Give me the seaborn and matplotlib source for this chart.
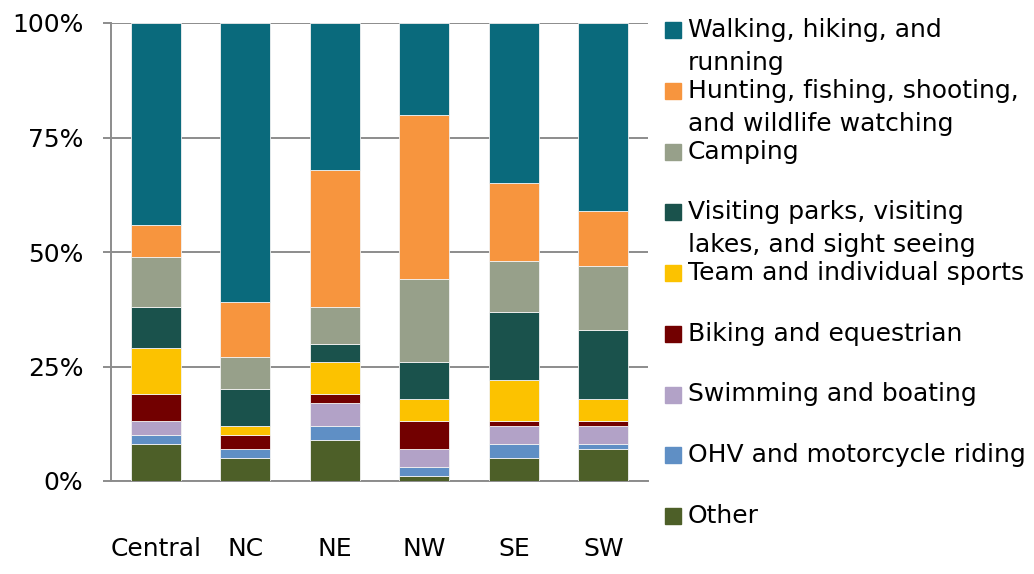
import matplotlib
matplotlib.use('Agg')
import matplotlib.pyplot as plt
import seaborn as sns
import numpy as np
from matplotlib.patches import Rectangle

# dados
regions = ['Central', 'NC', 'NE', 'NW', 'SE', 'SW']

activities = [
    'Other',
    'OHV and motorcycle riding',
    'Swimming and boating',
    'Biking and equestrian',
    'Team and individual sports',
    'Visiting parks, visiting\nlakes, and sight seeing',
    'Camping',
    'Hunting, fishing, shooting,\nand wildlife watching',
    'Walking, hiking, and\nrunning',
]

other = [8, 5, 9, 1, 5, 7]
ohv = [2, 2, 3, 2, 3, 1]
swimming = [3, 0, 5, 4, 4, 4]
biking = [6, 3, 2, 6, 1, 1]
team = [10, 2, 7, 5, 9, 5]
visiting = [9, 8, 4, 8, 15, 15]
camping = [11, 7, 8, 18, 11, 14]
hunting = [7, 12, 30, 36, 17, 12]
walking = [44, 61, 32, 20, 35, 41]

series = [other, ohv, swimming, biking, team, visiting, camping, hunting, walking]

colors = ['#4d5f28', '#5f8fc5', '#b2a2c7', '#720000', '#fcc200',
          '#1a524c', '#97a08a', '#f7953e', '#0a6a7c']

sns.set_style('white')
plt.rcParams['font.family'] = ['DejaVu Sans']
plt.rcParams['text.color'] = 'black'
plt.rcParams['xtick.labelcolor'] = 'black'
plt.rcParams['ytick.labelcolor'] = 'black'

W, H = 1034, 574
fig = plt.figure(figsize=(W / 100, H / 100), dpi=100)
ax = fig.add_axes([111 / W, 1 - 481 / H, 537 / W, 458 / H])

bottom = np.zeros(len(regions))
for vals, col in zip(series, colors):
    sns.barplot(x=regions, y=vals, bottom=bottom, color=col, saturation=1,
                width=0.56, errorbar=None, edgecolor='#f2f2f2', linewidth=0.6,
                ax=ax, zorder=3)
    bottom = bottom + np.array(vals)

ax.set_xlim(-0.5, len(regions) - 0.5)
ax.set_ylim(0, 100)
ax.set_yticks([0, 25, 50, 75, 100])
ax.set_yticklabels(['0%', '25%', '50%', '75%', '100%'])
ax.yaxis.grid(True, color='#8c8c8c', linewidth=1.4, zorder=0)
ax.set_axisbelow(True)
ax.set_xlabel('')
ax.set_ylabel('')

for s in ['top', 'right']:
    ax.spines[s].set_visible(False)
for s in ['left', 'bottom']:
    ax.spines[s].set_color('#8c8c8c')
    ax.spines[s].set_linewidth(1.4)

ax.set_xticks(np.arange(-0.5, len(regions), 1.0), minor=True)
ax.tick_params(axis='x', which='major', length=0, pad=40, labelsize=18,
               labelcolor='black')
ax.tick_params(axis='x', which='minor', length=6, width=1.4, color='#8c8c8c',
               direction='out')
ax.tick_params(axis='y', length=6, width=1.4, color='#8c8c8c', pad=14,
               labelsize=18, left=True, labelcolor='black')

# legenda manual (ordem invertida, como no Excel)
y0, step, line_gap = 30, 60.75, 33
for i, (lab, col) in enumerate(zip(activities[::-1], colors[::-1])):
    yc = y0 + i * step
    fig.add_artist(Rectangle((665 / W, 1 - (yc + 8) / H), 16 / W, 16 / H,
                             transform=fig.transFigure, color=col))
    for j, line in enumerate(lab.split('\n')):
        fig.text(688 / W, 1 - (yc + j * line_gap) / H, line, fontsize=18,
                 va='center', ha='left', color='black')

plt.savefig('out.png', dpi=100)
plt.close()
